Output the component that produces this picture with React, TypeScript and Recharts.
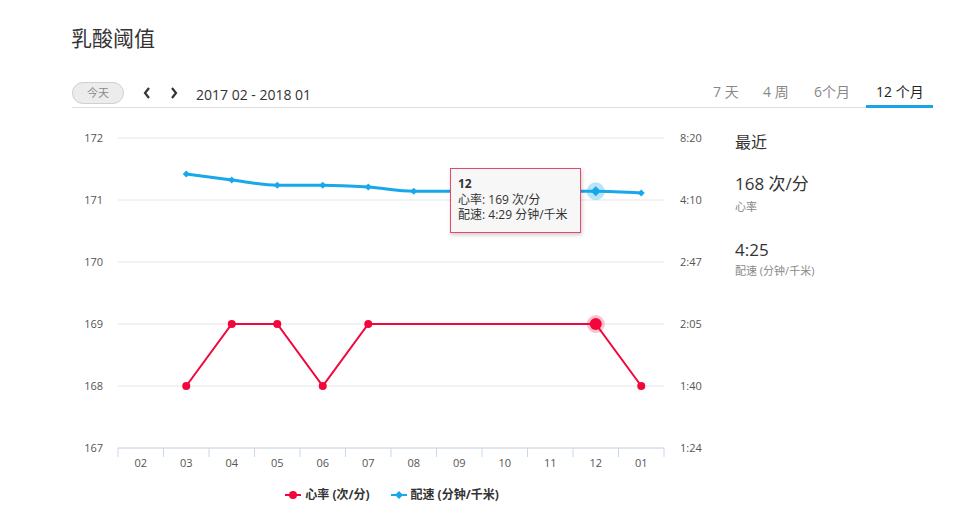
import React from "react";
import {
  ComposedChart,
  Line,
  XAxis,
  YAxis,
  CartesianGrid,
  Tooltip,
  Legend,
} from "recharts";

const months = ["02", "03", "04", "05", "06", "07", "08", "09", "10", "11", "12", "01"];
// 心率 (次/分)
const heartRate = [null, 168, 169, 169, 168, 169, null, null, null, null, 169, 168];
// 配速, seconds per km
const paceSec = [null, 316, 298, 284, 284, 279, 269, null, null, null, 269, 265];
const hrTicks = [167, 168, 169, 170, 171, 172];
// right axis runs on speed (1 / pace), shown as pace
const speedTicks = [0.002, 0.004, 0.006, 0.008, 0.01, 0.012];
const rangeTabs = ["7 天", "4 周", "6个月", "12 个月"];

const RED = "#f2063c";
const BLUE = "#17a8ea";
const FONT = '"Open Sans", "Noto Sans CJK SC", sans-serif';
const BAND = 546 / 12;

const data = months.map((m, i) => ({
  month: m,
  hr: heartRate[i],
  pace: paceSec[i],
  speed: paceSec[i] == null ? null : 1 / (paceSec[i] as number),
}));

const fmtPace = (sec: number) => {
  const m = Math.floor(sec / 60);
  const s = Math.round(sec - m * 60);
  return `${m}:${String(s).padStart(2, "0")}`;
};

const XTick = (props: any) => {
  const { x, y, payload, index } = props;
  const half = BAND / 2;
  return (
    <g>
      <line x1={x - half} x2={x - half} y1={y} y2={y + 9} stroke="#cbd8ea" />
      {index === months.length - 1 && (
        <line x1={x + half} x2={x + half} y1={y} y2={y + 9} stroke="#cbd8ea" />
      )}
      <text x={x} y={y + 19} textAnchor="middle" fill="#555" fontSize={11} fontFamily={FONT}>
        {payload.value}
      </text>
    </g>
  );
};

const Diamond = (props: any) => {
  const { cx, cy } = props;
  if (cx == null || cy == null) return <g />;
  const r = 3.5;
  return <path d={`M${cx},${cy - r}L${cx + r},${cy}L${cx},${cy + r}L${cx - r},${cy}Z`} fill={BLUE} />;
};

const ActiveDiamond = (props: any) => {
  const { cx, cy } = props;
  if (cx == null || cy == null) return <g />;
  const r = 5;
  return (
    <g>
      <circle cx={cx} cy={cy} r={9} fill={BLUE} fillOpacity={0.3} />
      <path d={`M${cx},${cy - r}L${cx + r},${cy}L${cx},${cy + r}L${cx - r},${cy}Z`} fill={BLUE} />
    </g>
  );
};

const ActiveCircle = (props: any) => {
  const { cx, cy } = props;
  if (cx == null || cy == null) return <g />;
  return (
    <g>
      <circle cx={cx} cy={cy} r={9} fill={RED} fillOpacity={0.25} />
      <circle cx={cx} cy={cy} r={6} fill={RED} />
    </g>
  );
};

const TipContent = (props: any) => {
  const { active, payload, label } = props;
  if (!active || !payload || !payload.length) return null;
  const row = payload[0].payload;
  return (
    <div
      style={{
        background: "#f7f7f7",
        border: "1px solid #e8476b",
        boxShadow: "1px 2px 4px rgba(0,0,0,0.2)",
        padding: "7px 8px 9px 7px",
        fontFamily: FONT,
        fontSize: 12,
        lineHeight: "15.5px",
        color: "#333",
        whiteSpace: "nowrap",
        width: 114,
      }}
    >
      <div style={{ fontWeight: "bold" }}>{label}</div>
      <div>心率: {row.hr} 次/分</div>
      <div>配速: {fmtPace(row.pace)} 分钟/千米</div>
    </div>
  );
};

const LegendContent = () => (
  <div
    style={{
      height: 40,
      boxSizing: "border-box",
      paddingTop: 9,
      paddingLeft: 10,
      display: "flex",
      alignItems: "flex-start",
      justifyContent: "center",
      gap: 21,
      fontFamily: FONT,
      fontSize: 12,
      fontWeight: "bold",
      color: "#333",
      lineHeight: "16px",
    }}
  >
    <span style={{ display: "flex", alignItems: "center", gap: 4, height: 16 }}>
      <svg width={16} height={10}>
        <line x1={0} x2={16} y1={5} y2={5} stroke={RED} strokeWidth={2} />
        <circle cx={8} cy={5} r={4} fill={RED} />
      </svg>
      心率 (次/分)
    </span>
    <span style={{ display: "flex", alignItems: "center", gap: 4, height: 16 }}>
      <svg width={16} height={10}>
        <line x1={0} x2={16} y1={5} y2={5} stroke={BLUE} strokeWidth={2} />
        <path d="M8,1L12,5L8,9L4,5Z" fill={BLUE} />
      </svg>
      配速 (分钟/千米)
    </span>
  </div>
);

export default function App() {
  const latest = data[data.length - 1];
  return (
    <div
      style={{
        position: "absolute",
        left: 0,
        top: 0,
        width: 972,
        height: 532,
        background: "#fff",
        fontFamily: FONT,
        color: "#333",
      }}
    >
      <div style={{ position: "absolute", left: 71, top: 24, fontSize: 21, lineHeight: "26px", fontFamily: '"Noto Sans CJK SC", sans-serif' }}>
        乳酸阈值
      </div>

      <div
        style={{
          position: "absolute",
          left: 72,
          top: 82,
          width: 50,
          height: 20,
          borderRadius: 11,
          border: "1px solid #cfcfcf",
          background: "#ececec",
          fontSize: 11,
          color: "#888",
          textAlign: "center",
          lineHeight: "20px",
        }}
      >
        今天
      </div>
      <svg style={{ position: "absolute", left: 141, top: 86 }} width={40} height={14}>
        <polyline points="8,2 4,7 8,12" fill="none" stroke="#333" strokeWidth={2.2} />
        <polyline points="31,2 35,7 31,12" fill="none" stroke="#333" strokeWidth={2.2} />
      </svg>
      <div style={{ position: "absolute", left: 196, top: 85, fontSize: 14, lineHeight: "20px" }}>
        2017 02 - 2018 01
      </div>

      {rangeTabs.map((t, i) => (
        <div
          key={t}
          style={{
            position: "absolute",
            left: [713, 763, 814, 876][i],
            top: 82,
            fontSize: 14,
            lineHeight: "20px",
            color: i === rangeTabs.length - 1 ? "#222" : "#888",
          }}
        >
          {t}
        </div>
      ))}
      <div style={{ position: "absolute", left: 72, top: 107, width: 861, height: 1, background: "#ddd" }} />
      <div style={{ position: "absolute", left: 866, top: 105, width: 67, height: 3, background: "#1aa3e8" }} />

      <div style={{ position: "absolute", left: 735, top: 131, fontSize: 16, lineHeight: "22px" }}>最近</div>
      <div style={{ position: "absolute", left: 735, top: 172, fontSize: 17, lineHeight: "24px" }}>
        {latest.hr} 次/分
      </div>
      <div style={{ position: "absolute", left: 735, top: 199, fontSize: 11, lineHeight: "16px", color: "#888" }}>心率</div>
      <div style={{ position: "absolute", left: 735, top: 238, fontSize: 17, lineHeight: "24px" }}>
        {fmtPace(latest.pace as number)}
      </div>
      <div style={{ position: "absolute", left: 735, top: 263, fontSize: 11, lineHeight: "16px", color: "#888" }}>
        配速 (分钟/千米)
      </div>

      <div style={{ position: "absolute", left: 60, top: 120 }}>
        <ComposedChart width={654} height={398} data={data} margin={{ top: 18, right: 0, bottom: 0, left: 0 }}>
          <CartesianGrid yAxisId="hr" vertical={false} stroke="#e6e6e6" />
          <XAxis
            dataKey="month"
            scale="band"
            stroke="#cbd8ea"
            tickLine={false}
            tickSize={0}
            tickMargin={0}
            height={30}
            tick={<XTick />}
            interval={0}
          />
          <YAxis
            yAxisId="hr"
            domain={[167, 172]}
            ticks={hrTicks}
            width={58}
            axisLine={false}
            tickLine={false}
            tickMargin={9}
            tick={{ fill: "#555", fontSize: 11, fontFamily: FONT }}
          />
          <YAxis
            yAxisId="pace"
            orientation="right"
            domain={[0.002, 0.012]}
            ticks={speedTicks}
            reversed
            width={50}
            axisLine={false}
            tickLine={false}
            tickMargin={10}
            tick={{ fill: "#555", fontSize: 11, fontFamily: FONT, textAnchor: "start" }}
            tickFormatter={(v: number) => fmtPace(Math.ceil(1 / v - 1e-9))}
          />
          <Legend verticalAlign="bottom" height={40} content={<LegendContent />} />
          <Tooltip
            defaultIndex={10}
            active
            cursor={false}
            position={{ x: 390, y: 48 }}
            content={<TipContent />}
            isAnimationActive={false}
          />
          <Line
            yAxisId="hr"
            dataKey="hr"
            type="linear"
            connectNulls
            stroke={RED}
            strokeWidth={2}
            dot={{ r: 4, fill: RED, stroke: RED, strokeWidth: 0 }}
            activeDot={<ActiveCircle />}
            isAnimationActive={false}
          />
          <Line
            yAxisId="pace"
            dataKey="speed"
            type="monotone"
            connectNulls
            stroke={BLUE}
            strokeWidth={3}
            dot={<Diamond />}
            activeDot={<ActiveDiamond />}
            isAnimationActive={false}
          />
        </ComposedChart>
      </div>
    </div>
  );
}
